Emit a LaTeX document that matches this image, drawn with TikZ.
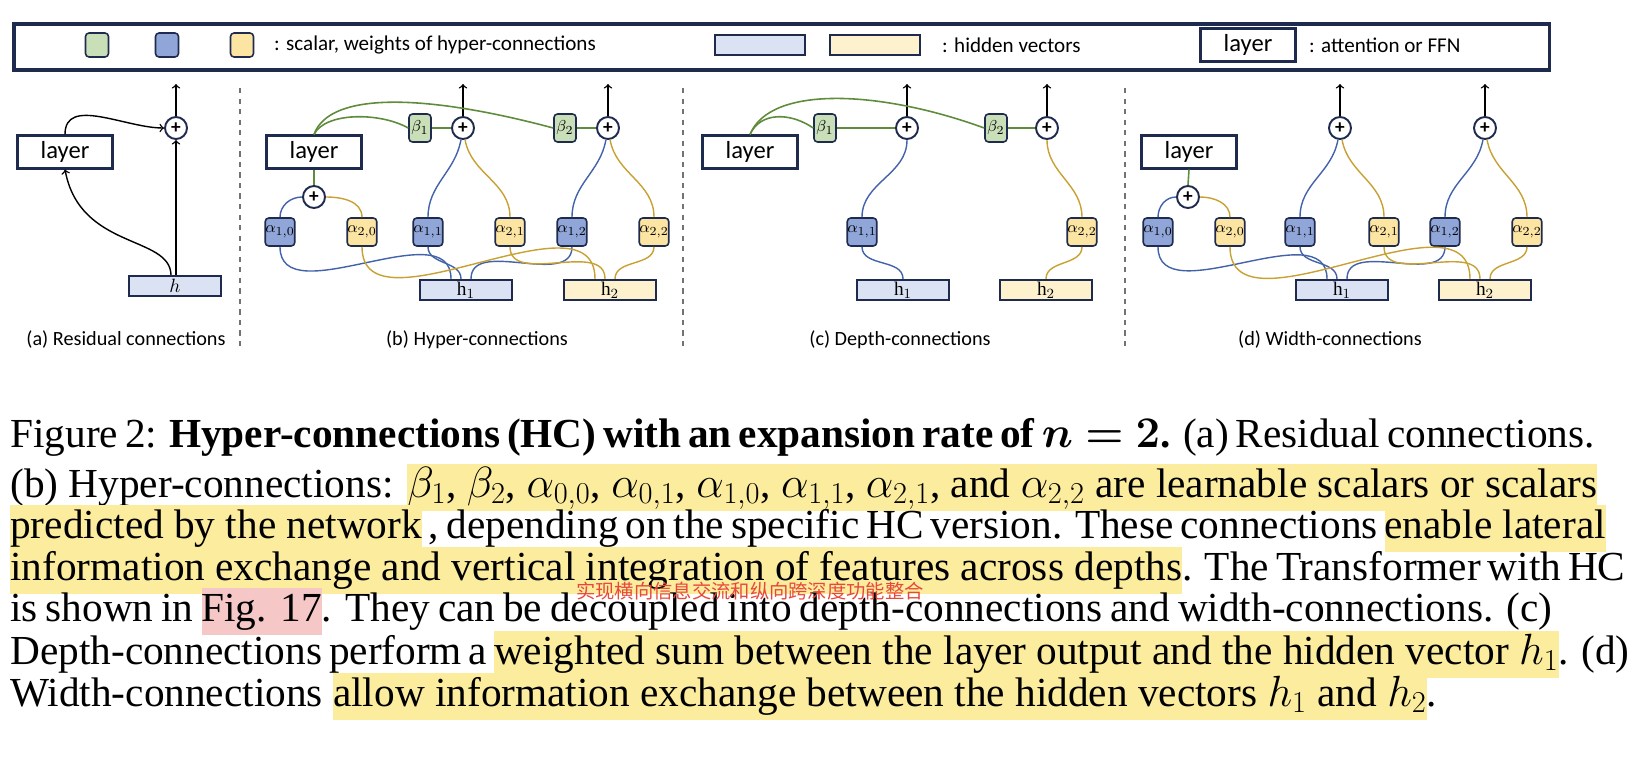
\documentclass[tikz,border=0pt]{standalone}
\usepackage{amsmath}
\usepackage{bm}
\usepackage{fontspec}
\setmainfont{Liberation Serif}
\newfontfamily\dia{Carlito}
\newfontfamily\cjk{Noto Sans CJK SC}
\usepackage{xcolor}
\usetikzlibrary{arrows, positioning}

\definecolor{navy}{HTML}{1F2A4F}
\definecolor{wblue}{HTML}{90A6D8}
\definecolor{wgreen}{HTML}{C8DFB8}
\definecolor{wyellow}{HTML}{FCE5A2}
\definecolor{hblue}{HTML}{DAE2F3}
\definecolor{hyellow}{HTML}{FDF2CD}
\definecolor{lblue}{HTML}{4262AA}
\definecolor{lyellow}{HTML}{C9A132}
\definecolor{lgreen}{HTML}{5E8C3A}
\definecolor{hlyel}{HTML}{FBEC9E}
\definecolor{hlpink}{HTML}{F5C7C7}
\definecolor{cnred}{HTML}{E8483C}

\newcommand{\hly}[1]{{\setlength{\fboxsep}{0pt}\colorbox{hlyel}{\strut #1}}}
\newcommand{\hlp}[1]{{\setlength{\fboxsep}{0pt}\colorbox{hlpink}{\strut #1}}}
\newcommand{\capline}[1]{\makebox[30.84cm][s]{#1}}

\begin{document}
\begin{tikzpicture}[
    x=0.02cm, y=-0.02cm,
    layer/.style={rectangle, draw=navy, line width=1.3pt, fill=white, minimum width=1.9cm, minimum height=0.62cm, font=\dia\fontsize{14}{16}\selectfont},
    wt/.style={rectangle, rounded corners=2pt, draw=navy, line width=0.9pt, minimum width=0.44cm, minimum height=0.56cm, inner sep=0pt, font=\fontsize{9.5}{10}\selectfont},
    wb/.style={wt, fill=wblue},
    wy/.style={wt, fill=wyellow},
    wg/.style={wt, fill=wgreen},
    plus/.style={circle, draw=navy, line width=1.1pt, fill=white, minimum size=0.44cm, inner sep=0pt, font=\dia\bfseries\fontsize{11}{11}\selectfont},
    hid/.style={rectangle, draw=navy, line width=1.3pt, minimum width=1.84cm, minimum height=0.4cm, inner sep=0pt, font=\fontsize{11}{11}\selectfont},
    hb/.style={hid, fill=hblue},
    hy/.style={hid, fill=hyellow},
    bl/.style={draw=lblue, line width=0.8pt},
    yl/.style={draw=lyellow, line width=0.8pt},
    gl/.style={draw=lgreen, line width=0.9pt},
    arrow/.style={->, >=to, line width=0.8pt},
    sub/.style={font=\dia\fontsize{11.5}{13}\selectfont},
    sep/.style={dashed, draw=black!55, line width=0.6pt},
    capt/.style={anchor=base west, inner sep=0pt, font=\fontsize{23.5}{27}\selectfont}
]
\useasboundingbox (0,0) rectangle (1634,768);

% Legend
\node[draw=navy, line width=2pt, minimum width=30.72cm, minimum height=0.92cm, anchor=north west] (legend) at (12,22) {};
\node[wg, minimum width=0.46cm, minimum height=0.48cm] (lgG) at (97,45) {};
\node[wb, minimum width=0.46cm, minimum height=0.48cm] (lgB) at (167,45) {};
\node[wy, minimum width=0.46cm, minimum height=0.48cm] (lgY) at (242,45) {};
\node[anchor=west, font=\dia\fontsize{12}{13}\selectfont] (lgT1) at (268,45) {: scalar, weights of hyper-connections};
\node[hb, minimum width=1.8cm] (lgH1) at (760,45) {};
\node[hy, minimum width=1.8cm] (lgH2) at (875,45) {};
\node[anchor=west, font=\dia\fontsize{12}{13}\selectfont] (lgT2) at (936,45) {: hidden vectors};
\node[layer] (lgL) at (1248,45) {layer};
\node[anchor=west, font=\dia\fontsize{12}{13}\selectfont] (lgT3) at (1303,45) {: attention or FFN};

% Separators
\coordinate (s1a) at (240,88); \coordinate (s1b) at (240,348);
\coordinate (s2a) at (683,88); \coordinate (s2b) at (683,348);
\coordinate (s3a) at (1125,88); \coordinate (s3b) at (1125,348);
\draw[sep] (s1a) -- (s1b);
\draw[sep] (s2a) -- (s2b);
\draw[sep] (s3a) -- (s3b);

% (a) Residual connections
\node[layer] (aL) at (65,152) {layer};
\node[plus] (aP) at (176,128) {+};
\node[hb] (aH) at (175,286) {$h$};
\coordinate (aO) at (176,84);
\draw[arrow] (aP) -- (aO);
\draw[arrow] ([xshift=0.02cm]aH.north) -- (aP.south);
\draw[arrow] ([xshift=-0.08cm]aH.north) .. controls (170,235) and (80,250) .. (aL.south);
\draw[arrow] (aL.north) to[out=90, in=180] (aP.west);
\node[sub] (aC) at (126,340) {(a) Residual connections};

% (b) Hyper-connections
\node[layer] (bL) at (314,152) {layer};
\node[plus] (bP0) at (314,197) {+};
\node[wb] (bA10) at (280,232) {$\alpha_{1,0}$};
\node[wy] (bA20) at (362,232) {$\alpha_{2,0}$};
\node[wb] (bA11) at (428,232) {$\alpha_{1,1}$};
\node[wy] (bA21) at (510,232) {$\alpha_{2,1}$};
\node[wb] (bA12) at (572,232) {$\alpha_{1,2}$};
\node[wy] (bA22) at (654,232) {$\alpha_{2,2}$};
\node[wg] (bB1) at (420,128) {$\beta_1$};
\node[wg] (bB2) at (565,128) {$\beta_2$};
\node[plus] (bP1) at (463,128) {+};
\node[plus] (bP2) at (608,128) {+};
\node[hb] (bH1) at (466,290) {$\mathrm{h}_1$};
\node[hy] (bH2) at (610,290) {$\mathrm{h}_2$};
\coordinate (bO1) at (463,84); \coordinate (bO2) at (608,84);
\draw[arrow] (bP1) -- (bO1);
\draw[arrow] (bP2) -- (bO2);
\draw[gl] (bL.north) .. controls (325,112) and (380,112) .. (bB1.west);
\draw[gl] (bL.north) .. controls (330,90) and (430,95) .. (bB2.west);
\draw[gl] (bB1.east) -- (bP1.west);
\draw[gl] (bB2.east) -- (bP2.west);
\draw[gl] (bP0.north) -- (bL.south);
\draw[bl] (bA10.north) to[out=90, in=180] (bP0.west);
\draw[yl] (bA20.north) to[out=90, in=0] (bP0.east);
\draw[bl] (bA11.north) to[out=90, in=-100] (bP1.260);
\draw[yl] (bA21.north) to[out=90, in=-80] (bP1.280);
\draw[bl] (bA12.north) to[out=90, in=-100] (bP2.260);
\draw[yl] (bA22.north) to[out=90, in=-80] (bP2.280);
\draw[bl] (bA10.south) to[out=-90, in=90] ([xshift=-0.3cm]bH1.north);
\draw[bl] (bA11.south) to[out=-90, in=90] ([xshift=-0.1cm]bH1.north);
\draw[bl] (bA12.south) to[out=-90, in=90] ([xshift=0.1cm]bH1.north);
\draw[yl] (bA20.south) to[out=-90, in=90] ([xshift=-0.3cm]bH2.north);
\draw[yl] (bA21.south) to[out=-90, in=90] ([xshift=-0.1cm]bH2.north);
\draw[yl] (bA22.south) to[out=-90, in=90] ([xshift=0.1cm]bH2.north);
\node[sub] (bC) at (477,340) {(b) Hyper-connections};

% (c) Depth-connections
\node[layer] (cL) at (750,152) {layer};
\node[wg] (cB1) at (825,128) {$\beta_1$};
\node[wg] (cB2) at (996,128) {$\beta_2$};
\node[plus] (cP1) at (907,128) {+};
\node[plus] (cP2) at (1047,128) {+};
\node[wb] (cA11) at (862,232) {$\alpha_{1,1}$};
\node[wy] (cA22) at (1082,232) {$\alpha_{2,2}$};
\node[hb] (cH1) at (903,290) {$\mathrm{h}_1$};
\node[hy] (cH2) at (1046,290) {$\mathrm{h}_2$};
\coordinate (cO1) at (907,84); \coordinate (cO2) at (1047,84);
\draw[arrow] (cP1) -- (cO1);
\draw[arrow] (cP2) -- (cO2);
\draw[gl] (cL.north) .. controls (760,112) and (790,112) .. (cB1.west);
\draw[gl] (cL.north) .. controls (770,85) and (880,90) .. (cB2.west);
\draw[gl] (cB1.east) -- (cP1.west);
\draw[gl] (cB2.east) -- (cP2.west);
\draw[bl] (cA11.north) to[out=90, in=-90] (cP1.south);
\draw[yl] (cA22.north) to[out=90, in=-90] (cP2.south);
\draw[bl] (cA11.south) to[out=-90, in=90] (cH1.north);
\draw[yl] (cA22.south) to[out=-90, in=90] (cH2.north);
\node[sub] (cC) at (900,340) {(c) Depth-connections};

% (d) Width-connections
\node[layer] (dL) at (1189,152) {layer};
\node[plus] (dP0) at (1188,197) {+};
\node[wb] (dA10) at (1158,232) {$\alpha_{1,0}$};
\node[wy] (dA20) at (1230,232) {$\alpha_{2,0}$};
\node[wb] (dA11) at (1300,232) {$\alpha_{1,1}$};
\node[wy] (dA21) at (1384,232) {$\alpha_{2,1}$};
\node[wb] (dA12) at (1445,232) {$\alpha_{1,2}$};
\node[wy] (dA22) at (1527,232) {$\alpha_{2,2}$};
\node[plus] (dP1) at (1340,128) {+};
\node[plus] (dP2) at (1485,128) {+};
\node[hb] (dH1) at (1342,290) {$\mathrm{h}_1$};
\node[hy] (dH2) at (1485,290) {$\mathrm{h}_2$};
\coordinate (dO1) at (1340,84); \coordinate (dO2) at (1485,84);
\draw[arrow] (dP1) -- (dO1);
\draw[arrow] (dP2) -- (dO2);
\draw[gl] (dP0.north) -- (dL.south);
\draw[bl] (dA10.north) to[out=90, in=180] (dP0.west);
\draw[yl] (dA20.north) to[out=90, in=0] (dP0.east);
\draw[bl] (dA11.north) to[out=90, in=-100] (dP1.260);
\draw[yl] (dA21.north) to[out=90, in=-80] (dP1.280);
\draw[bl] (dA12.north) to[out=90, in=-100] (dP2.260);
\draw[yl] (dA22.north) to[out=90, in=-80] (dP2.280);
\draw[bl] (dA10.south) to[out=-90, in=90] ([xshift=-0.3cm]dH1.north);
\draw[bl] (dA11.south) to[out=-90, in=90] ([xshift=-0.1cm]dH1.north);
\draw[bl] (dA12.south) to[out=-90, in=90] ([xshift=0.1cm]dH1.north);
\draw[yl] (dA20.south) to[out=-90, in=90] ([xshift=-0.3cm]dH2.north);
\draw[yl] (dA21.south) to[out=-90, in=90] ([xshift=-0.1cm]dH2.north);
\draw[yl] (dA22.south) to[out=-90, in=90] ([xshift=0.1cm]dH2.north);
\node[sub] (dC) at (1330,340) {(d) Width-connections};

% Caption
\node[capt] (cap1) at (10,447) {\capline{Figure 2: \textbf{Hyper-connections (HC) with an expansion rate of} $\bm{n=2}$\textbf{.} (a) Residual connections.}};
\node[capt] (cap2) at (10,497) {(b) Hyper-connections: \hly{$\beta_1$, $\beta_2$, $\alpha_{0,0}$, $\alpha_{0,1}$, $\alpha_{1,0}$, $\alpha_{1,1}$, $\alpha_{2,1}$, and $\alpha_{2,2}$ are learnable scalars or scalars}};
\node[capt] (cap3) at (10,538) {\capline{\hly{predicted by the network} , depending on the specific HC version. These connections \hly{enable lateral}}};
\node[capt] (cap4) at (10,580) {\capline{\hly{information exchange and vertical integration of features across depths}. The Transformer with HC}};
\node[capt] (cap5) at (10,621) {\capline{is shown in \hlp{Fig. 17}. They can be decoupled into depth-connections and width-connections. (c)}};
\node[capt] (cap6) at (10,664) {\capline{Depth-connections perform a \hly{weighted sum between the layer output and the hidden vector $h_1$}. (d)}};
\node[capt] (cap7) at (10,706) {Width-connections \hly{allow information exchange between the hidden vectors $h_1$ and $h_2$}.};
\node[text=cnred, font=\cjk\fontsize{11}{12}\selectfont] (cn) at (750,591) {实现横向信息交流和纵向跨深度功能整合};
\end{tikzpicture}
\end{document}
